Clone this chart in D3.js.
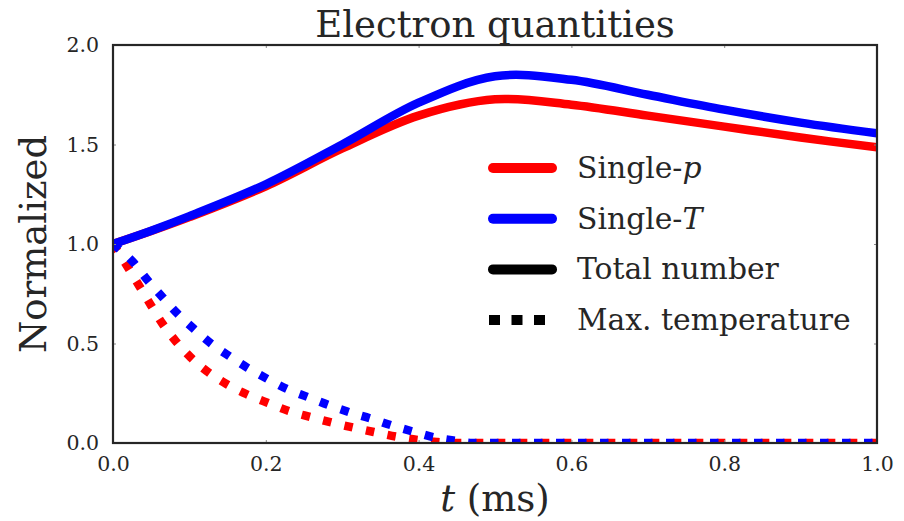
<!DOCTYPE html>
<html>
<head>
<meta charset="utf-8">
<script src="https://cdn.jsdelivr.net/npm/d3@7/dist/d3.min.js"></script>
<style>
  html, body { margin: 0; padding: 0; background: #fff; }
  svg { display: block; }
  text { font-family: "DejaVu Serif", serif; fill: #262626; }
</style>
</head>
<body>
<svg id="chart" width="904" height="521"></svg>
<script>
// Time axis (ms) and normalized electron quantities
const tTotal = [0, 0.05, 0.1, 0.2, 0.3, 0.4, 0.5, 0.6, 0.7, 0.8, 0.9, 1.0];
const totalSingleP = [1.0, 1.065, 1.135, 1.29, 1.48, 1.645, 1.727, 1.70, 1.645, 1.59, 1.535, 1.486];
const totalSingleT = [1.0, 1.067, 1.14, 1.30, 1.50, 1.71, 1.843, 1.825, 1.75, 1.675, 1.61, 1.556];

const tTempP = [0, 0.02, 0.035, 0.05, 0.065, 0.083, 0.102, 0.125, 0.149, 0.175, 0.203, 0.23, 0.258, 0.287, 0.315, 0.343, 0.371, 0.40, 0.425, 0.44, 0.6, 0.8, 1.0];
const maxTempSingleP = [1.0, 0.88, 0.785, 0.69, 0.598, 0.508, 0.429, 0.355, 0.295, 0.245, 0.201, 0.161, 0.131, 0.102, 0.077, 0.054, 0.032, 0.015, 0.005, 0, 0, 0, 0];
const tTempT = [0, 0.027, 0.045, 0.065, 0.084, 0.106, 0.128, 0.152, 0.176, 0.202, 0.228, 0.255, 0.282, 0.31, 0.339, 0.366, 0.393, 0.421, 0.45, 0.47, 0.6, 0.8, 1.0];
const maxTempSingleT = [1.0, 0.906, 0.819, 0.732, 0.652, 0.573, 0.501, 0.437, 0.378, 0.322, 0.271, 0.231, 0.191, 0.154, 0.121, 0.087, 0.057, 0.028, 0.01, 0, 0, 0, 0];

const xTicks = [0, 0.2, 0.4, 0.6, 0.8, 1.0];
const yTicks = [0, 0.5, 1.0, 1.5, 2.0];

const legendItems = [
  { label: "Single-", math: "p", color: "#ff0000", dotted: false },
  { label: "Single-", math: "T", color: "#0000ff", dotted: false },
  { label: "Total number", math: "", color: "#000000", dotted: false },
  { label: "Max. temperature", math: "", color: "#000000", dotted: true }
];

const svg = d3.select("#chart");
const margin = { left: 113, top: 45, right: 904 - 877, bottom: 521 - 443 };
const W = 904 - margin.left - margin.right;
const H = 521 - margin.top - margin.bottom;

const x = d3.scaleLinear().domain([0, 1]).range([0, W]);
const y = d3.scaleLinear().domain([0, 2]).range([H, 0]);

const g = svg.append("g").attr("transform", `translate(${margin.left},${margin.top})`);

svg.append("defs").append("clipPath").attr("id", "plotClip")
  .append("rect").attr("x", 0).attr("y", 0).attr("width", W).attr("height", H);

const smoothLine = d3.line().x(d => x(d[0])).y(d => y(d[1])).curve(d3.curveCatmullRom.alpha(0.5));
const decayLine = d3.line().x(d => x(d[0])).y(d => y(d[1])).curve(d3.curveMonotoneX);
const zip = (a, b) => a.map((v, i) => [v, b[i]]);

const plot = g.append("g").attr("clip-path", "url(#plotClip)");
const LW = 8.5;

const series = [
  { data: zip(tTotal, totalSingleP), color: "#ff0000", dotted: false },
  { data: zip(tTempP, maxTempSingleP), color: "#ff0000", dotted: true },
  { data: zip(tTotal, totalSingleT), color: "#0000ff", dotted: false },
  { data: zip(tTempT, maxTempSingleT), color: "#0000ff", dotted: true }
];

series.forEach(s => {
  plot.append("path")
    .attr("d", (s.dotted ? decayLine : smoothLine)(s.data))
    .attr("fill", "none")
    .attr("stroke", s.color)
    .attr("stroke-width", LW)
    .attr("stroke-linecap", s.dotted ? "butt" : "round")
    .attr("stroke-linejoin", "round")
    .attr("stroke-dasharray", s.dotted ? "8.5,13.5" : null);
});

// Axes: small inward ticks on all four sides
const tickStyle = sel => {
  sel.select(".domain").remove();
  sel.selectAll(".tick line").attr("stroke", "#8a8a8a").attr("stroke-width", 1);
};
g.append("g").attr("transform", `translate(0,${H})`)
  .call(d3.axisBottom(x).tickValues(xTicks).tickFormat(d3.format(".1f")).tickSizeInner(-3).tickSizeOuter(0).tickPadding(13))
  .call(tickStyle)
  .selectAll("text").style("font-family", "DejaVu Serif").style("font-size", "20.5px").attr("fill", "#262626");
g.append("g")
  .call(d3.axisTop(x).tickValues(xTicks).tickFormat("").tickSizeInner(-3).tickSizeOuter(0))
  .call(tickStyle);
g.append("g")
  .call(d3.axisLeft(y).tickValues(yTicks).tickFormat(d3.format(".1f")).tickSizeInner(-3).tickSizeOuter(0).tickPadding(14))
  .call(tickStyle)
  .selectAll("text").style("font-family", "DejaVu Serif").style("font-size", "20.5px").attr("fill", "#262626");
g.append("g").attr("transform", `translate(${W},0)`)
  .call(d3.axisRight(y).tickValues(yTicks).tickFormat("").tickSizeInner(-3).tickSizeOuter(0))
  .call(tickStyle);

// Frame
g.append("rect").attr("x", 0).attr("y", 0).attr("width", W).attr("height", H)
  .attr("fill", "none").attr("stroke", "#262626").attr("stroke-width", 2.2);

// Title and axis labels
svg.append("text").attr("x", margin.left + W / 2).attr("y", 36.5)
  .attr("text-anchor", "middle").style("font-size", "37px").text("Electron quantities");

const xl = svg.append("text").attr("x", margin.left + W / 2).attr("y", 511)
  .attr("text-anchor", "middle").style("font-size", "37px");
xl.append("tspan").style("font-style", "italic").text("t");
xl.append("tspan").text(" (ms)");

svg.append("text").attr("transform", `translate(46,${margin.top + H / 2}) rotate(-90)`)
  .attr("text-anchor", "middle").style("font-size", "37px").text("Normalized");

// Legend
const legend = svg.append("g").attr("transform", "translate(488,168)");
legendItems.forEach((d, i) => {
  const row = legend.append("g").attr("transform", `translate(0,${i * 50.7})`);
  row.append("line").attr("x1", d.dotted ? 1 : 5).attr("x2", d.dotted ? 57 : 64).attr("y1", 0).attr("y2", 0)
    .attr("stroke", d.color).attr("stroke-width", 10)
    .attr("stroke-linecap", d.dotted ? "butt" : "round")
    .attr("stroke-dasharray", d.dotted ? "11,11.5" : null);
  const t = row.append("text").attr("x", 89).attr("y", 10).style("font-size", "29.8px");
  t.append("tspan").text(d.label);
  if (d.math) t.append("tspan").style("font-style", "italic").text(d.math);
});
</script>
</body>
</html>
